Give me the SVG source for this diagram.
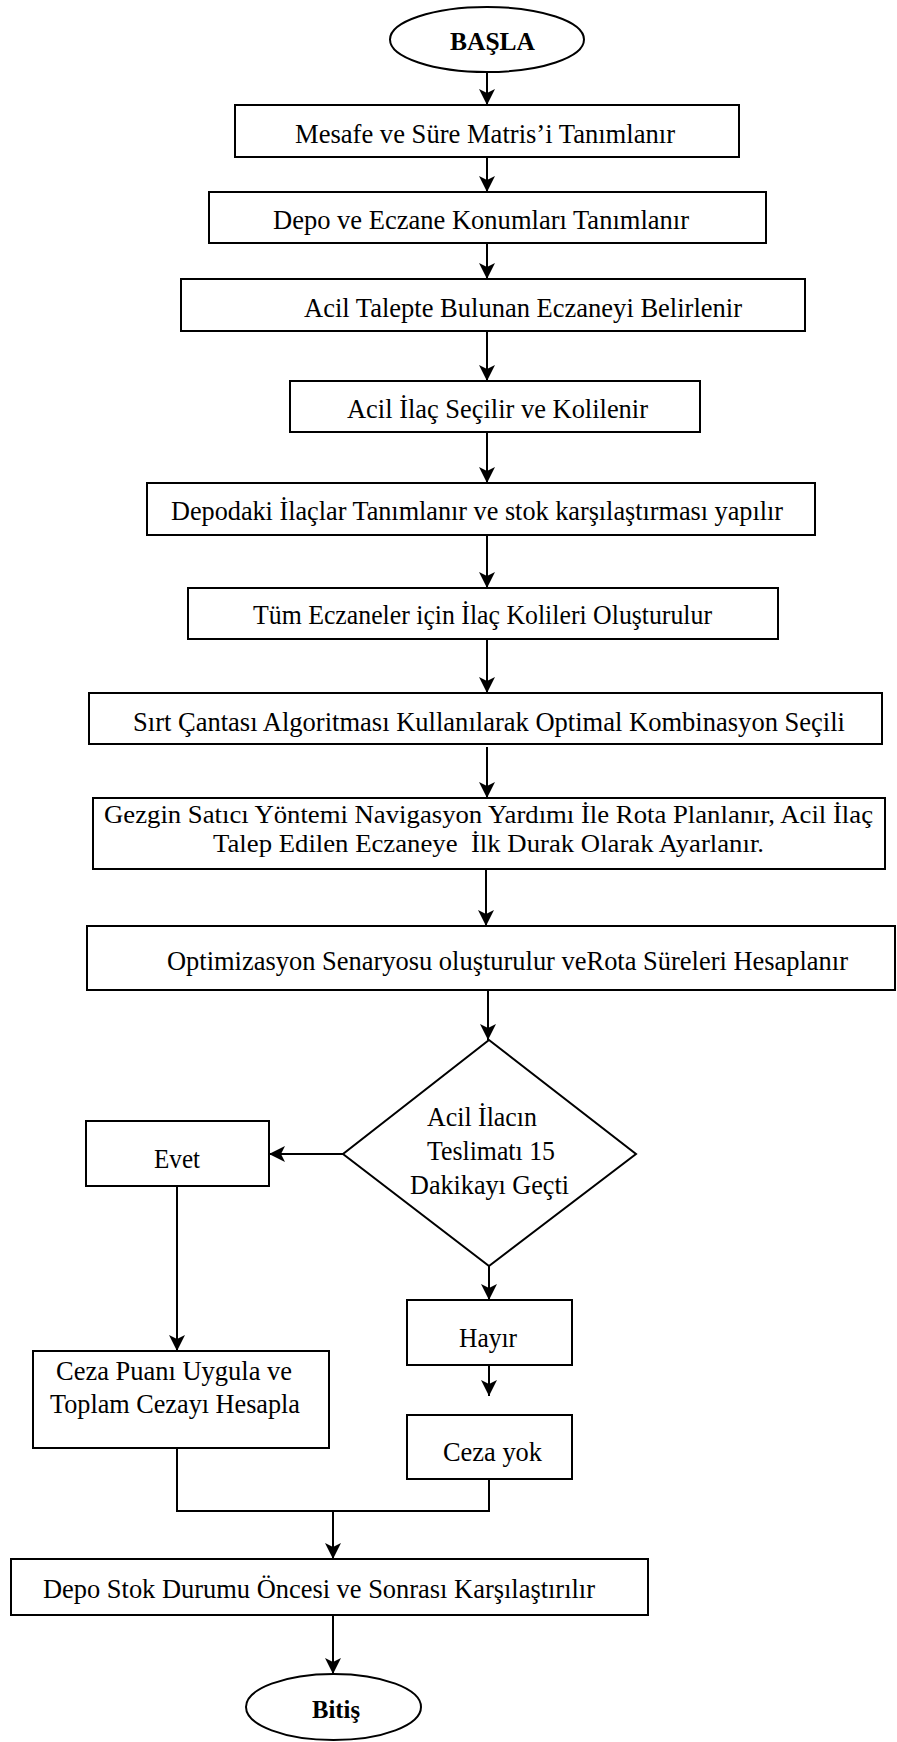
<svg xmlns="http://www.w3.org/2000/svg" width="897" height="1742" viewBox="0 0 897 1742">
<defs>
<style>
.box{fill:#fff;stroke:#000;stroke-width:2}
.t{font-family:"Liberation Serif","Times New Roman",serif;font-size:28px;fill:#000}
.s{font-size:26px}
.b{font-family:"Liberation Serif","Times New Roman",serif;font-size:26px;font-weight:bold;fill:#000}
.ln{fill:none;stroke:#000;stroke-width:2}
.ar{fill:none;stroke:#000;stroke-width:2;marker-end:url(#ah)}
</style>
<marker id="ah" viewBox="0 0 16 16" refX="16" refY="8" markerWidth="16" markerHeight="16" markerUnits="userSpaceOnUse" orient="auto">
<path d="M0,0 L16,8 L0,16 L4,8 Z" fill="#000"/>
</marker>
</defs>
<rect width="897" height="1742" fill="#fff"/>

<g id="connectors">
<line class="ar" x1="487" y1="72" x2="487" y2="105"/>
<line class="ar" x1="487" y1="157" x2="487" y2="192"/>
<line class="ar" x1="487" y1="243" x2="487" y2="279"/>
<line class="ar" x1="487" y1="331" x2="487" y2="381"/>
<line class="ar" x1="487" y1="432" x2="487" y2="483"/>
<line class="ar" x1="487" y1="535" x2="487" y2="588"/>
<line class="ar" x1="487" y1="639" x2="487" y2="693"/>
<line class="ar" x1="487" y1="747" x2="487" y2="798"/>
<line class="ar" x1="486" y1="866" x2="486" y2="926"/>
<line class="ar" x1="488" y1="990" x2="488" y2="1040"/>
<line class="ar" x1="489" y1="1266" x2="489" y2="1300"/>
<line class="ar" x1="489" y1="1365" x2="489" y2="1396"/>
<line class="ar" x1="343" y1="1154" x2="269" y2="1154"/>
<line class="ar" x1="177" y1="1186" x2="177" y2="1351"/>
<polyline class="ln" points="177,1448 177,1511 489,1511 489,1479"/>
<line class="ar" x1="333" y1="1511" x2="333" y2="1559"/>
<line class="ar" x1="333" y1="1615" x2="333" y2="1674"/>
</g>

<g id="n-basla">
<ellipse class="box" cx="487" cy="39.5" rx="97" ry="32.5"/>
<text class="b" x="450" y="50" textLength="85" lengthAdjust="spacingAndGlyphs">BAŞLA</text>
</g>
<g id="n-mesafe">
<rect class="box" x="235" y="105" width="504" height="52"/>
<text class="t" x="295" y="143" textLength="380" lengthAdjust="spacingAndGlyphs">Mesafe ve Süre Matris’i Tanımlanır</text>
</g>
<g id="n-depo">
<rect class="box" x="209" y="192" width="557" height="51"/>
<text class="t" x="273" y="229" textLength="416" lengthAdjust="spacingAndGlyphs">Depo ve Eczane Konumları Tanımlanır</text>
</g>
<g id="n-aciltalep">
<rect class="box" x="181" y="279" width="624" height="52"/>
<text class="t" x="304" y="317" textLength="438" lengthAdjust="spacingAndGlyphs">Acil Talepte Bulunan Eczaneyi Belirlenir</text>
</g>
<g id="n-acililac">
<rect class="box" x="290" y="381" width="410" height="51"/>
<text class="t" x="347" y="418" textLength="301" lengthAdjust="spacingAndGlyphs">Acil İlaç Seçilir ve Kolilenir</text>
</g>
<g id="n-depodaki">
<rect class="box" x="147" y="483" width="668" height="52"/>
<text class="t" x="171" y="520" textLength="612" lengthAdjust="spacingAndGlyphs">Depodaki İlaçlar Tanımlanır ve stok karşılaştırması yapılır</text>
</g>
<g id="n-tum">
<rect class="box" x="188" y="588" width="590" height="51"/>
<text class="t" x="253" y="624" textLength="459" lengthAdjust="spacingAndGlyphs">Tüm Eczaneler için İlaç Kolileri Oluşturulur</text>
</g>
<g id="n-sirt">
<rect class="box" x="89" y="693" width="793" height="51"/>
<text class="t" x="133" y="731" textLength="712" lengthAdjust="spacingAndGlyphs">Sırt Çantası Algoritması Kullanılarak Optimal Kombinasyon Seçili</text>
</g>
<g id="n-gezgin">
<rect class="box" x="93" y="798" width="792" height="71"/>
<text class="t s" x="104" y="823" textLength="769" lengthAdjust="spacingAndGlyphs">Gezgin Satıcı Yöntemi Navigasyon Yardımı İle Rota Planlanır, Acil İlaç</text>
<text class="t s" x="213" y="852" textLength="551" lengthAdjust="spacingAndGlyphs" xml:space="preserve">Talep Edilen Eczaneye  İlk Durak Olarak Ayarlanır.</text>
</g>
<g id="n-optim">
<rect class="box" x="87" y="926" width="808" height="64"/>
<text class="t" x="167" y="970" textLength="681" lengthAdjust="spacingAndGlyphs">Optimizasyon Senaryosu oluşturulur veRota Süreleri Hesaplanır</text>
</g>
<g id="n-karar">
<polygon class="box" points="489,1040 636,1154 489,1266 343,1154"/>
<text class="t" x="427" y="1126" textLength="110" lengthAdjust="spacingAndGlyphs">Acil İlacın</text>
<text class="t" x="427" y="1160" textLength="128" lengthAdjust="spacingAndGlyphs">Teslimatı 15</text>
<text class="t" x="410" y="1194" textLength="159" lengthAdjust="spacingAndGlyphs">Dakikayı Geçti</text>
</g>
<g id="n-evet">
<rect class="box" x="86" y="1121" width="183" height="65"/>
<text class="t" x="154" y="1168" textLength="46" lengthAdjust="spacingAndGlyphs">Evet</text>
</g>
<g id="n-ceza">
<rect class="box" x="33" y="1351" width="296" height="97"/>
<text class="t" x="56" y="1380" textLength="236" lengthAdjust="spacingAndGlyphs">Ceza Puanı Uygula ve</text>
<text class="t" x="50" y="1413" textLength="250" lengthAdjust="spacingAndGlyphs">Toplam Cezayı Hesapla</text>
</g>
<g id="n-hayir">
<rect class="box" x="407" y="1300" width="165" height="65"/>
<text class="t" x="459" y="1347" textLength="58" lengthAdjust="spacingAndGlyphs">Hayır</text>
</g>
<g id="n-cezayok">
<rect class="box" x="407" y="1415" width="165" height="64"/>
<text class="t" x="443" y="1461" textLength="99" lengthAdjust="spacingAndGlyphs">Ceza yok</text>
</g>
<g id="n-depostok">
<rect class="box" x="11" y="1559" width="637" height="56"/>
<text class="t" x="43" y="1598" textLength="552" lengthAdjust="spacingAndGlyphs">Depo Stok Durumu Öncesi ve Sonrası Karşılaştırılır</text>
</g>
<g id="n-bitis">
<ellipse class="box" cx="333.5" cy="1707" rx="87.5" ry="33"/>
<text class="b" x="312" y="1718" textLength="48" lengthAdjust="spacingAndGlyphs">Bitiş</text>
</g>
</svg>
